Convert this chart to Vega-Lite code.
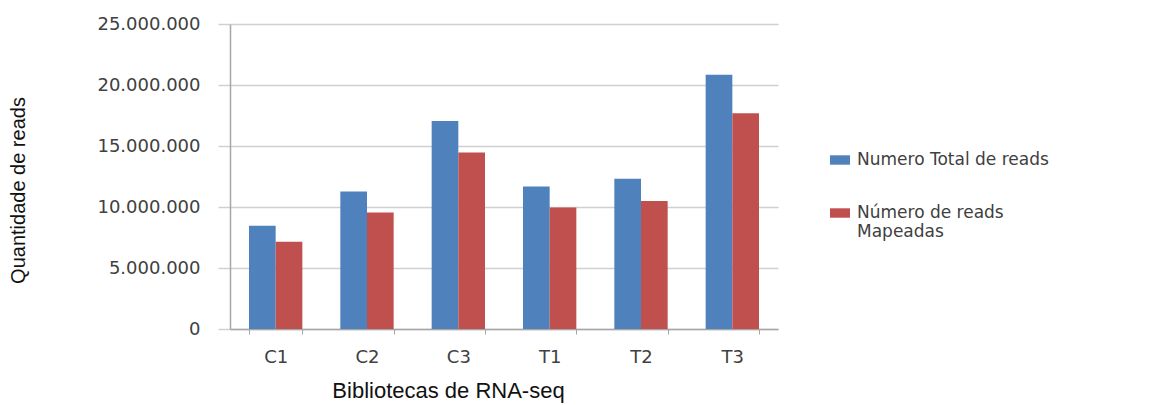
{
  "$schema": "https://vega.github.io/schema/vega-lite/v6.json",
  "width": 548,
  "height": 305,
  "autosize": {"type": "none"},
  "padding": {"left": 230, "top": 24, "right": 383, "bottom": 76},
  "background": "white",
  "config": {
    "locale": {
      "number": {"decimal": ",", "thousands": ".", "grouping": [3], "currency": ["", ""]}
    },
    "view": {"stroke": null},
    "font": "Liberation Sans"
  },
  "data": {
    "values": [
      {"biblioteca": "C1", "serie": "Numero Total de reads", "reads": 8470000},
      {"biblioteca": "C1", "serie": "Número de reads Mapeadas", "reads": 7160000},
      {"biblioteca": "C2", "serie": "Numero Total de reads", "reads": 11270000},
      {"biblioteca": "C2", "serie": "Número de reads Mapeadas", "reads": 9540000},
      {"biblioteca": "C3", "serie": "Numero Total de reads", "reads": 17040000},
      {"biblioteca": "C3", "serie": "Número de reads Mapeadas", "reads": 14470000},
      {"biblioteca": "T1", "serie": "Numero Total de reads", "reads": 11680000},
      {"biblioteca": "T1", "serie": "Número de reads Mapeadas", "reads": 9950000},
      {"biblioteca": "T2", "serie": "Numero Total de reads", "reads": 12310000},
      {"biblioteca": "T2", "serie": "Número de reads Mapeadas", "reads": 10500000},
      {"biblioteca": "T3", "serie": "Numero Total de reads", "reads": 20840000},
      {"biblioteca": "T3", "serie": "Número de reads Mapeadas", "reads": 17690000}
    ]
  },
  "mark": {"type": "bar"},
  "encoding": {
    "x": {
      "field": "biblioteca",
      "type": "nominal",
      "sort": null,
      "scale": {"paddingInner": 0.416, "paddingOuter": 0.208},
      "axis": {
        "title": "Bibliotecas de RNA-seq",
        "titleFont": "Liberation Sans",
        "titleFontSize": 22,
        "titleFontWeight": "normal",
        "titleColor": "#111111",
        "titleX": 218,
        "titleAlign": "center",
        "titlePadding": 14,
        "labelAngle": 0,
        "labelFont": "DejaVu Sans",
        "labelFontSize": 18,
        "labelColor": "#404040",
        "labelPadding": 14,
        "tickBand": "extent",
        "tickSize": 5,
        "tickColor": "#a6a6a6",
        "domainColor": "#a6a6a6",
        "domainWidth": 1.5,
        "grid": false
      }
    },
    "xOffset": {
      "field": "serie",
      "sort": ["Numero Total de reads", "Número de reads Mapeadas"],
      "scale": {"paddingInner": 0, "paddingOuter": 0}
    },
    "y": {
      "field": "reads",
      "type": "quantitative",
      "scale": {"domain": [0, 25000000]},
      "axis": {
        "values": [0, 5000000, 10000000, 15000000, 20000000, 25000000],
        "format": ",d",
        "title": "Quantidade de reads",
        "titleFont": "Liberation Sans",
        "titleFontSize": 20,
        "titleFontWeight": "normal",
        "titleColor": "#111111",
        "titlePadding": 68,
        "titleY": 166,
        "labelFont": "DejaVu Sans",
        "labelFontSize": 18,
        "labelColor": "#404040",
        "labelPadding": 18,
        "tickSize": 12,
        "tickColor": "#d0d0d0",
        "tickWidth": 1.5,
        "grid": true,
        "gridColor": "#d0d0d0",
        "gridWidth": 1.5,
        "domainColor": "#a6a6a6",
        "domainWidth": 1.5
      }
    },
    "color": {
      "field": "serie",
      "type": "nominal",
      "scale": {
        "domain": ["Numero Total de reads", "Número de reads Mapeadas"],
        "range": ["#4F81BD", "#C0504D"]
      },
      "legend": {
        "title": null,
        "orient": "none",
        "legendX": 600,
        "legendY": 126,
        "padding": 0,
        "symbolType": "M-1,-0.47H1V0.47H-1Z",
        "symbolSize": 400,
        "symbolStrokeWidth": 0,
        "labelFont": "DejaVu Sans",
        "labelFontSize": 17,
        "labelColor": "#404040",
        "labelLimit": 400,
        "labelOffset": 7,
        "rowPadding": 35,
        "labelExpr": "datum.label == 'Número de reads Mapeadas' ? ['Número de reads', 'Mapeadas'] : datum.label"
      }
    }
  }
}
